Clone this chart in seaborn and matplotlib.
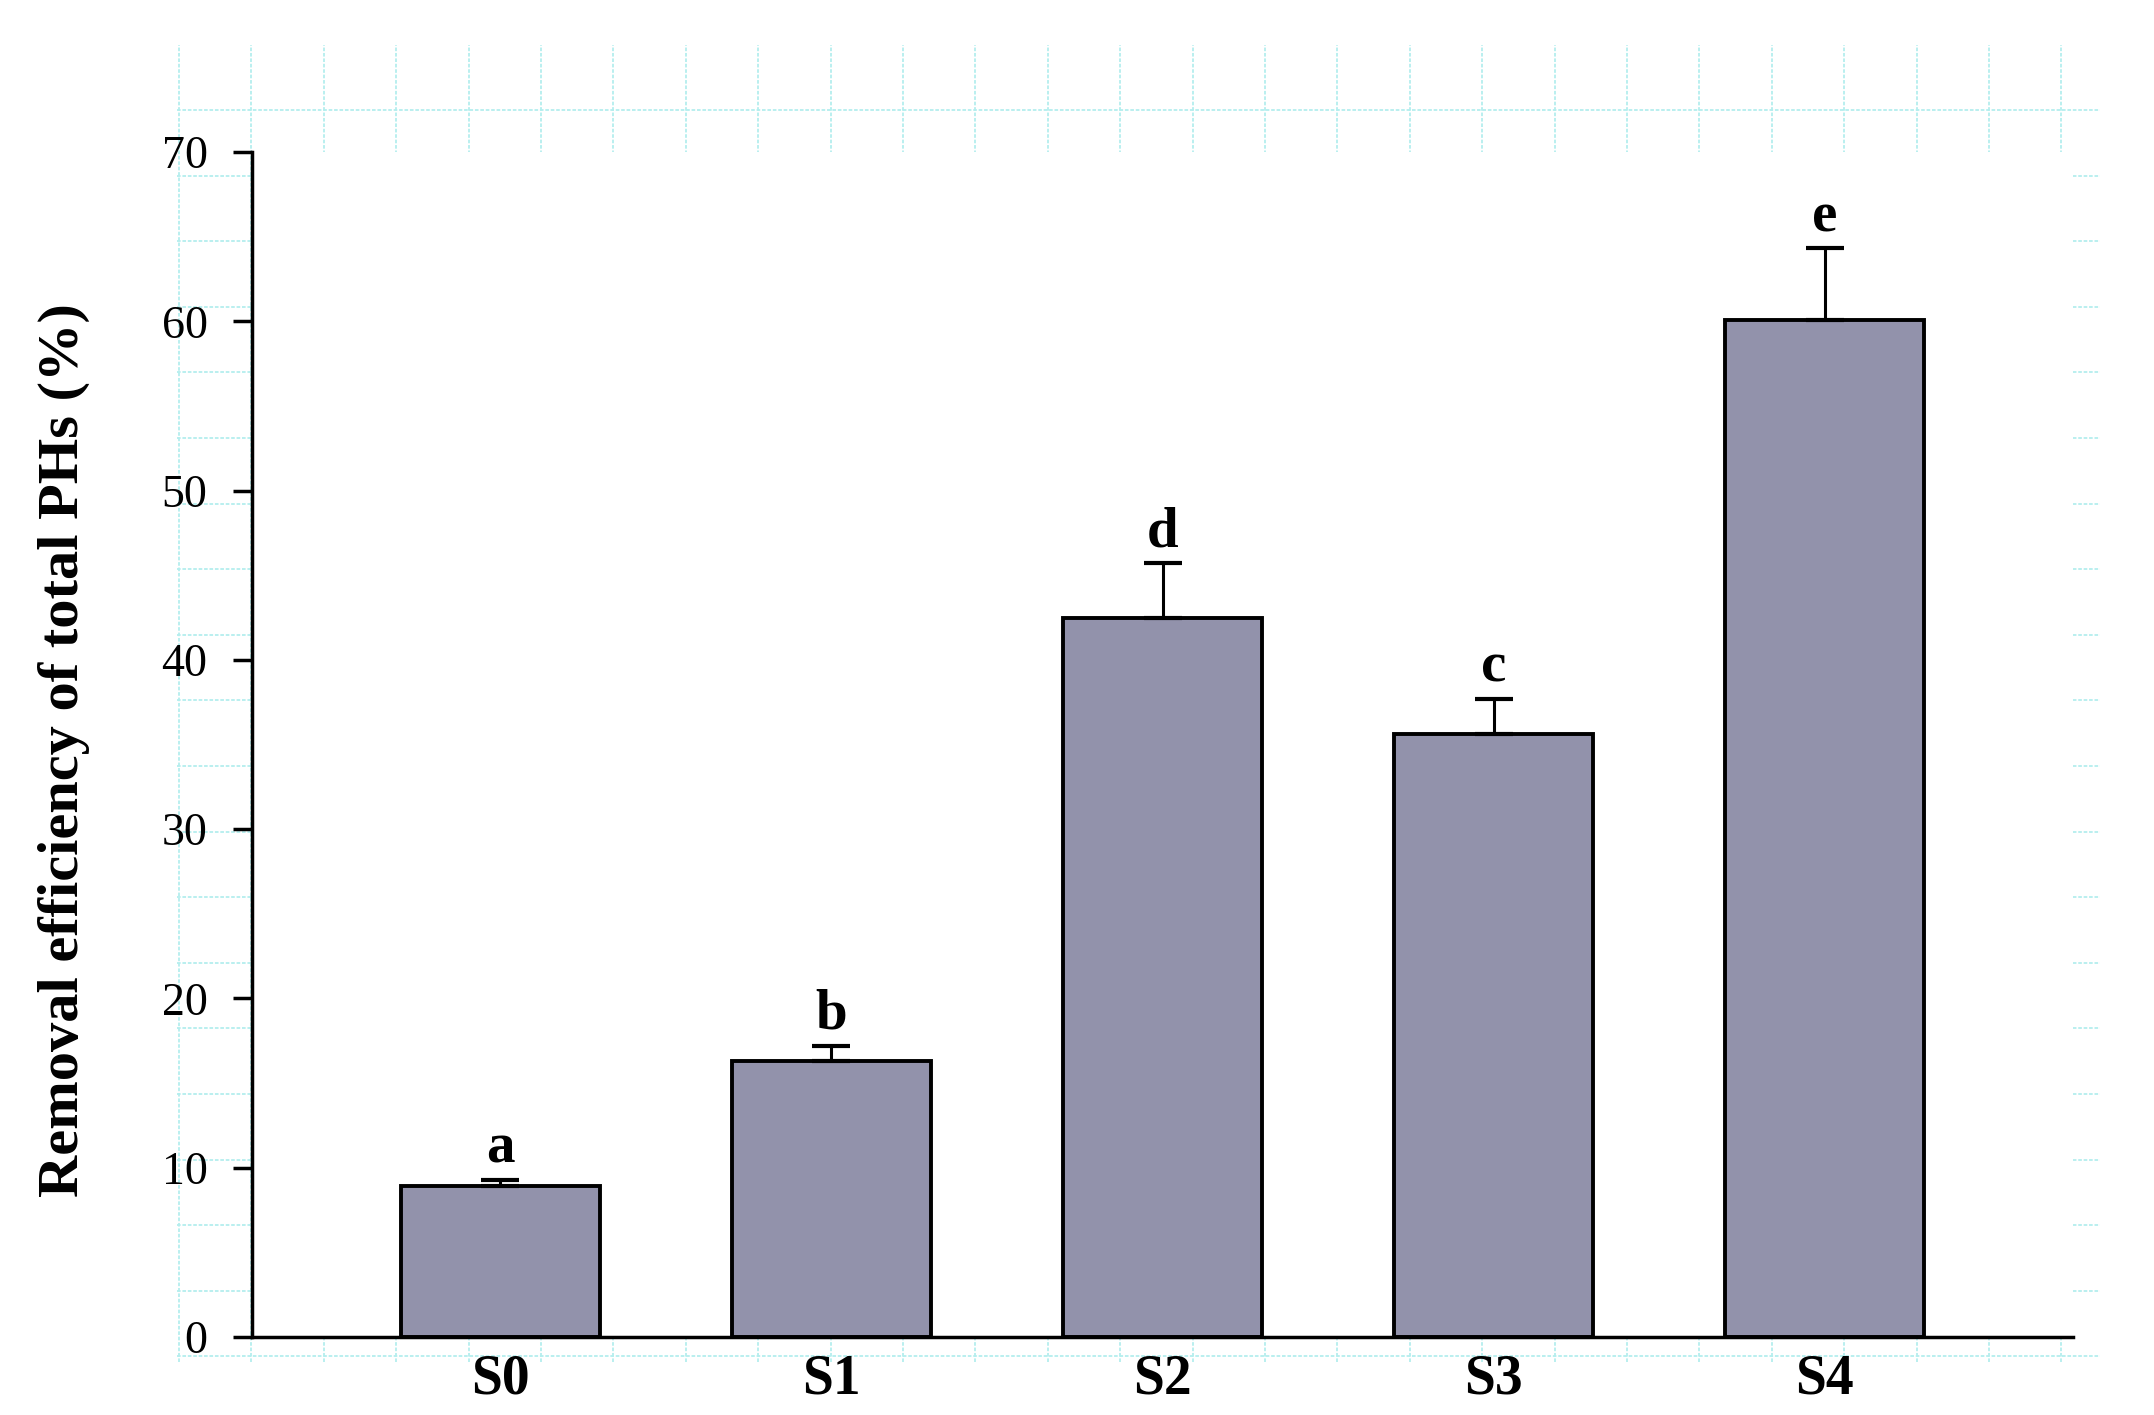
import numpy as np
import pandas as pd
import matplotlib
matplotlib.use('Agg')
import matplotlib.pyplot as plt
import seaborn as sns

# data
treatments = ['S0', 'S1', 'S2', 'S3', 'S4']
removal = [8.9, 16.3, 42.5, 35.6, 60.1]
removal_sd = [0.4, 0.9, 3.2, 2.1, 4.2]
groups = ['a', 'b', 'd', 'c', 'e']

df = pd.DataFrame({'Treatment': treatments, 'Removal': removal})

sns.set_style('white')
plt.rcParams['font.family'] = ['Liberation Serif', 'DejaVu Serif']
plt.rcParams['text.color'] = 'black'
plt.rcParams['axes.labelcolor'] = 'black'

W, H = 2154, 1415
fig = plt.figure(figsize=(W / 100, H / 100), dpi=100)

# light cyan graph-paper behind the plot (only visible around the axes)
gx0, gx1, gy0, gy1 = 177, 2100, 45, 1362
bg = fig.add_axes([gx0 / W, 1 - gy1 / H, (gx1 - gx0) / W, (gy1 - gy0) / H], zorder=0)
bg.set_xlim(gx0, gx1)
bg.set_ylim(gy1, gy0)
bg.set_xticks(np.arange(179, 2070, 72.4))
bg.set_yticks(np.arange(110, 1362, 65.6))
bg.grid(True, color='#b4eeee', linestyle=(0, (2, 1)), linewidth=1.3)
bg.tick_params(length=0, labelbottom=False, labelleft=False)
for s in bg.spines.values():
    s.set_visible(False)
bg.set_facecolor('none')

ax = fig.add_axes([252 / W, 1 - 1337 / H, (2073 - 252) / W, (1337 - 152) / H], zorder=1)
ax.set_facecolor('white')

sns.barplot(data=df, x='Treatment', y='Removal', color='#9292ab', width=0.6,
            edgecolor='black', linewidth=2.8, saturation=1, errorbar=None, ax=ax)

xpos = np.arange(len(treatments))
ax.errorbar(xpos, removal, yerr=[np.zeros(len(removal_sd)), removal_sd], fmt='none',
            ecolor='black', elinewidth=2.2, capsize=14, capthick=3, zorder=1)

for x, v, e, g in zip(xpos, removal, removal_sd, groups):
    ax.text(x, v + e + 1.0, g, ha='center', va='baseline', fontsize=41,
            fontweight='bold', color='black')

ax.set_xlim(-0.75, 4.75)
ax.set_ylim(0, 70)
ax.set_yticks(np.arange(0, 71, 10))
ax.set_xlabel('')
ax.set_ylabel('Removal efficiency of total PHs (%)', fontsize=42, fontweight='bold',
              color='black')
ax.yaxis.set_label_coords(-0.089, 0.495)

sns.despine(ax=ax)
for s in ['left', 'bottom']:
    ax.spines[s].set_linewidth(2.5)
    ax.spines[s].set_color('black')

ax.tick_params(axis='y', direction='out', length=14, width=2.5, labelsize=33, pad=18,
               left=True, labelcolor='black', color='black')
ax.tick_params(axis='x', length=0, labelsize=40, pad=12, labelcolor='black')
for lab in ax.get_xticklabels():
    lab.set_fontweight('bold')

fig.savefig('out.png', dpi=100, facecolor='white')
